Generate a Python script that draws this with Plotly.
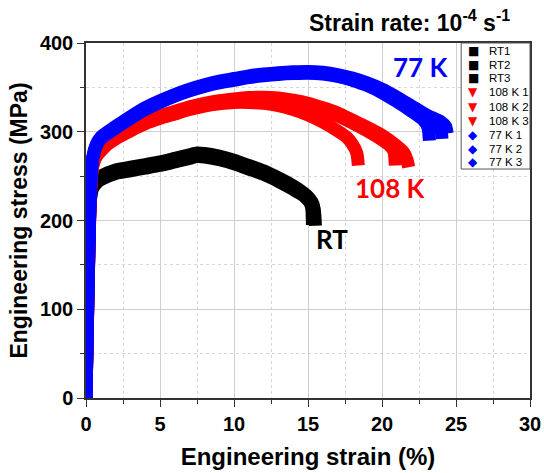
import plotly.graph_objects as go

# ---------------- data (engineering strain %, engineering stress MPa) ----------------
rt1_strain = [0, 0.3, 0.45, 0.7, 1, 2, 3, 4, 5, 6, 7, 7.5, 8, 9, 10, 11, 12, 13, 14, 14.7, 15.1, 15.25, 15.3]
rt1_stress = [0, 225, 238, 244, 248, 255, 258, 261, 264, 268, 272, 274, 273.5, 270.5, 266, 260, 254, 246, 237, 229, 222, 214, 195]
rt2_strain = [0, 0.3, 0.45, 0.7, 1, 2, 3, 4, 5, 6, 7, 7.5, 8, 9, 10, 11, 12, 13, 14, 14.7, 15.1, 15.35, 15.45]
rt2_stress = [0, 227, 240, 246, 250, 257, 260, 263, 266, 270, 274, 276, 275.5, 272.5, 268, 262, 256, 248, 239, 231, 225, 218, 198]
rt3_strain = [0, 0.3, 0.45, 0.7, 1, 2, 3, 4, 5, 6, 7, 7.5, 8, 9, 10, 11, 12, 13, 14, 14.7, 15.1, 15.4, 15.5]
rt3_stress = [0, 223, 236, 242, 246, 253, 256, 259, 262, 266, 270, 272, 271.5, 268.5, 264, 258, 252, 244, 235, 228, 221, 214, 194]

k108_1_strain = [0, 0.3, 0.45, 0.7, 1, 1.4, 2, 3, 4, 5, 6, 7, 8, 9, 10, 11, 12, 13, 14, 15, 16, 17, 17.6, 18, 18.3, 18.4]
k108_1_stress = [0, 228, 260, 272, 278, 285, 292, 301, 309, 315, 320, 325, 329, 331.5, 333, 333, 332, 329.5, 325, 319, 311, 301, 294, 286, 276, 262]
k108_2_strain = [0, 0.3, 0.45, 0.7, 1, 1.4, 2, 3, 4, 5, 6, 7, 8, 9, 10, 11, 12, 13, 14, 15, 16, 17, 18, 19, 20, 20.5, 20.8, 20.9]
k108_2_stress = [0, 230, 262, 274, 280, 287, 294, 303, 311, 317, 322, 327, 331, 334, 336, 337.5, 338, 337, 334, 330, 325, 318, 310, 301, 291, 285, 278, 262]
k108_3_strain = [0, 0.3, 0.45, 0.7, 1, 1.4, 2, 3, 4, 5, 6, 7, 8, 9, 10, 11, 12, 13, 14, 15, 16, 17, 18, 19, 20, 21, 21.5, 21.7, 21.8]
k108_3_stress = [0, 231, 263, 275, 281, 288, 295, 304, 312, 318, 323, 328, 332, 335, 337, 338.5, 339, 338, 335.5, 332, 327, 321, 313, 305, 296, 284, 276, 268, 260]

k77_1_strain = [0, 0.3, 0.45, 0.7, 1, 2, 3, 4, 5, 6, 7, 8, 9, 10, 11, 12, 13, 14, 15, 16, 17, 18, 19, 20, 21, 22, 22.8, 23.1, 23.2]
k77_1_stress = [0, 236, 270, 285, 293, 305, 316, 326, 334, 341, 347, 352, 356, 359, 362, 364, 365.5, 366.5, 367, 366, 363, 358, 352, 344, 334, 323, 313, 305, 290]
k77_2_strain = [0, 0.3, 0.45, 0.7, 1, 2, 3, 4, 5, 6, 7, 8, 9, 10, 11, 12, 13, 14, 15, 16, 17, 18, 19, 20, 21, 22, 23, 23.7, 24.0, 24.05]
k77_2_stress = [0, 235, 269, 284, 292, 304, 315, 325, 333, 340, 346, 351, 355, 358, 361, 363, 364.5, 365.5, 366, 365, 362.5, 358.5, 353, 346, 337, 327, 317, 309, 300, 292]
k77_3_strain = [0, 0.3, 0.45, 0.7, 1, 2, 3, 4, 5, 6, 7, 8, 9, 10, 11, 12, 13, 14, 15, 16, 17, 18, 19, 20, 21, 22, 23, 24, 24.3, 24.4]
k77_3_stress = [0, 237, 271, 286, 294, 306, 317, 327, 335, 342, 348, 353, 357, 360, 363, 365, 366.5, 367.5, 368, 367, 364.5, 360.5, 355, 348, 339, 329, 319, 311, 306, 298]

series = [
    ("RT1", rt1_strain, rt1_stress, "#000000"),
    ("RT2", rt2_strain, rt2_stress, "#000000"),
    ("RT3", rt3_strain, rt3_stress, "#000000"),
    ("108 K 1", k108_1_strain, k108_1_stress, "#ff0000"),
    ("108 K 2", k108_2_strain, k108_2_stress, "#ff0000"),
    ("108 K 3", k108_3_strain, k108_3_stress, "#ff0000"),
    ("77 K 1", k77_1_strain, k77_1_stress, "#0000ff"),
    ("77 K 2", k77_2_strain, k77_2_stress, "#0000ff"),
    ("77 K 3", k77_3_strain, k77_3_stress, "#0000ff"),
]
legend_labels = ["RT1", "RT2", "RT3", "108 K 1", "108 K 2", "108 K 3", "77 K 1", "77 K 2", "77 K 3"]
legend_symbols = ["■", "■", "■", "▼", "▼", "▼", "◆", "◆", "◆"]
legend_colors = ["#000000"] * 3 + ["#ff0000"] * 3 + ["#0000ff"] * 3

x_ticks = [0, 5, 10, 15, 20, 25, 30]
y_ticks = [0, 100, 200, 300, 400]

group_labels = ["77 K", "108 K", "RT"]
group_label_x = [22.6, 20.6, 16.6]
group_label_y = [373, 237, 179]
group_label_colors = ["#0000ff", "#ff0000", "#000000"]

# ---------------- figure ----------------
fig = go.Figure()
for name, xs, ys, col in series:
    fig.add_trace(go.Scatter(x=xs, y=ys, mode="lines", name=name,
                             line=dict(color=col, width=13, shape="spline", smoothing=0.6),
                             showlegend=False, hoverinfo="skip"))

axis_font = dict(family="Liberation Sans, Arial", size=20, color="#000000")
fig.update_layout(
    width=544, height=473,
    margin=dict(l=86, r=14, t=43, b=75),
    paper_bgcolor="white", plot_bgcolor="white",
    showlegend=False,
    font=dict(family="Liberation Sans, Arial", color="#000000"),
)
common = dict(
    showline=True, linecolor="#333333", linewidth=1.5, mirror=True,
    ticks="outside", ticklen=7, tickwidth=1.3, tickcolor="#333333",
    showgrid=True, gridcolor="#cfcfcf", gridwidth=1, zeroline=False,
    tickfont=axis_font, automargin=False,
)
fig.update_xaxes(
    range=[0, 30], tickvals=x_ticks, ticktext=[f"<b>{v}</b>" for v in x_ticks],
    minor=dict(dtick=2.5, tick0=0, showgrid=True, gridcolor="#d6d6d6", griddash="dot",
               ticks="outside", ticklen=4, tickcolor="#333333"),
    title=dict(text="<b>Engineering strain (%)</b>", font=dict(size=24, family="Liberation Sans, Arial"), standoff=14),
    **common,
)
fig.update_yaxes(
    range=[0, 400], tickvals=y_ticks, ticktext=[f"<b>{v}</b>" for v in y_ticks],
    minor=dict(dtick=50, tick0=0, showgrid=True, gridcolor="#d6d6d6", griddash="dot",
               ticks="outside", ticklen=4, tickcolor="#333333"),
    title=dict(text="<b>Engineering stress (MPa)</b>", font=dict(size=23, family="Liberation Sans, Arial"), standoff=6),
    **common,
)

# group labels
for t, gx, gy, gc in zip(group_labels, group_label_x, group_label_y, group_label_colors):
    fig.add_annotation(x=gx, y=gy, text=f"<b>{t}</b>", showarrow=False,
                       font=dict(family="Lato", size=26, color=gc),
                       xanchor="center", yanchor="middle")

# strain-rate title
fig.add_annotation(xref="paper", yref="paper", x=0.96, y=1.0, yshift=5,
                   text="<b>Strain rate: 10<sup>-4</sup> s<sup>-1</sup></b>",
                   showarrow=False, xanchor="right", yanchor="bottom",
                   font=dict(family="Liberation Sans, Arial", size=23, color="#000000"))

# legend box (drawn manually to match compact layout)
fig.add_shape(type="rect", xref="paper", yref="paper", x0=0.845, x1=1.0, y0=0.645, y1=1.0,
              line=dict(color="#555555", width=1), fillcolor="white", layer="above")
row_px = [51, 64.5, 78, 92, 106.5, 121, 135, 148.5, 162]
for lab, sym, col, py in zip(legend_labels, legend_symbols, legend_colors, row_px):
    yp = (398 - py) / 355
    fig.add_annotation(xref="paper", yref="paper", x=(473 - 86) / 444, y=yp, text=sym,
                       showarrow=False, xanchor="center", yanchor="middle",
                       font=dict(family="DejaVu Sans", size=12, color=col))
    fig.add_annotation(xref="paper", yref="paper", x=(487 - 86) / 444, y=yp, text=lab,
                       showarrow=False, xanchor="left", yanchor="middle",
                       font=dict(family="Liberation Sans, Arial", size=11.5, color="#000000"))

fig.write_html("out.html", config={"displayModeBar": False},
               post_script="document.body.style.margin='0';")
